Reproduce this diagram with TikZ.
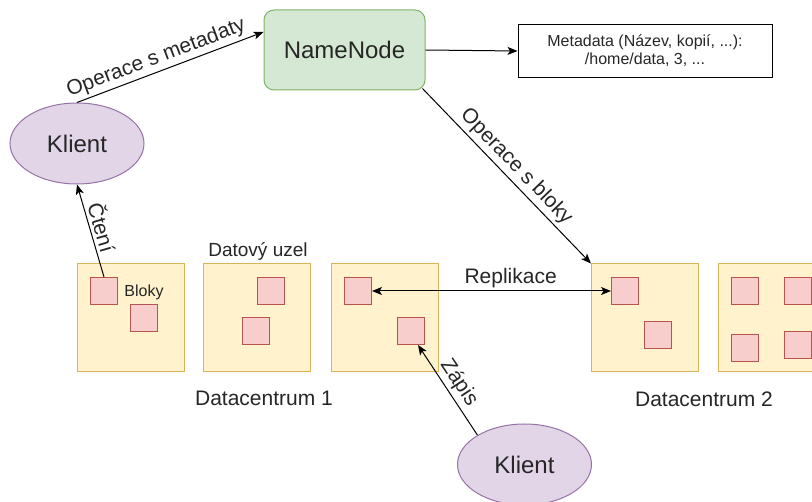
\documentclass[tikz,border=0pt]{standalone}
\usepackage{fontspec}
\setmainfont{Liberation Sans}
\usetikzlibrary{arrows.meta,shapes.geometric}

\definecolor{nnfill}{HTML}{D5E8D4}
\definecolor{nnline}{HTML}{82B366}
\definecolor{klfill}{HTML}{E1D5E7}
\definecolor{klline}{HTML}{9673A6}
\definecolor{uzfill}{HTML}{FFF2CC}
\definecolor{uzline}{HTML}{D6B656}
\definecolor{blfill}{HTML}{F8CECC}
\definecolor{blline}{HTML}{B85450}

\begin{document}
\begin{tikzpicture}[x=1pt,y=-1pt,
        >={Stealth[length=10pt,width=8pt,inset=2.5pt]},
        every node/.style={text=black!85},
        namenode/.style={draw=nnline,fill=nnfill,rounded corners=10pt,line width=1pt,
            minimum width=161pt,minimum height=80pt,font=\fontsize{24}{29}\selectfont},
        klient/.style={ellipse,draw=klline,fill=klfill,line width=1pt,
            minimum width=134pt,minimum height=81pt,font=\fontsize{24}{29}\selectfont},
        uzel/.style={draw=uzline,fill=uzfill,line width=1pt,minimum width=107pt,minimum height=108pt},
        blok/.style={draw=blline,fill=blfill,line width=1pt,minimum size=27pt},
        popis/.style={font=\fontsize{21}{25}\selectfont,inner sep=3pt},
        spoj/.style={line width=1pt,->}]
        % Cadre
        \useasboundingbox (0,0) rectangle (812,502);
        \clip (0,0) rectangle (812,502);

        % NameNode et metadonnees
        \node[namenode] (nn) at (344.5,50) {NameNode};
        \node[draw,line width=1pt,minimum width=254pt,minimum height=53pt,align=center,
            font=\fontsize{16}{18}\selectfont] (meta) at (645,51)
            {Metadata (Název, kopií, ...):\\/home/data, 3, ...};

        % Clients
        \node[klient] (kl1) at (77,143.5) {Klient};
        \node[klient] (kl2) at (524.5,464.5) {Klient};

        % Noeuds de donnees
        \foreach \i/\x in {1/130.5,2/257,3/384.5,4/645,5/772} {
            \node[uzel] (dn\i) at (\x,318) {};
        }

        % Blocs
        \foreach \n/\x/\y in {1a/104/291,1b/144/318,2a/271/291,2b/256/331,3a/358/291,3b/411/331,
                4a/625/291,4b/658/335,5a/745/291,5b/798/291,5c/745/348,5d/798/345} {
            \node[blok] (sq\n) at (\x,\y) {};
        }

        % Etiquettes
        \node[font=\fontsize{16}{19}\selectfont] (bloky) at (144,292) {Bloky};
        \node[font=\fontsize{19}{23}\selectfont] (uzelpopis) at (258,251) {Datový uzel};
        \node[popis] (dc1) at (264,398) {Datacentrum 1};
        \node[popis] (dc2) at (704,399) {Datacentrum 2};

        % Liaisons
        \draw[spoj] (kl1.north) -- node[popis,sloped,above,pos=0.45] {Operace s metadaty} ([yshift=18pt]nn.west);
        \draw[spoj] (nn.east) -- (meta.west);
        \draw[spoj] ([shift={(-3pt,2pt)}]nn.south east) -- node[popis,sloped,above] {Operace s bloky} (dn4.north west);
        \draw[spoj] (sq1a.north) -- node[popis,sloped,above] {Čtení} (kl1.south);
        \draw[line width=1pt,<->] (sq3a.east) -- node[popis,above,pos=0.58] {Replikace} (sq4a.west);
        \draw[spoj] (kl2.148) -- node[popis,sloped,above] {Zápis} ([xshift=-7pt]sq3b.south east);
    \end{tikzpicture}
\end{document}
